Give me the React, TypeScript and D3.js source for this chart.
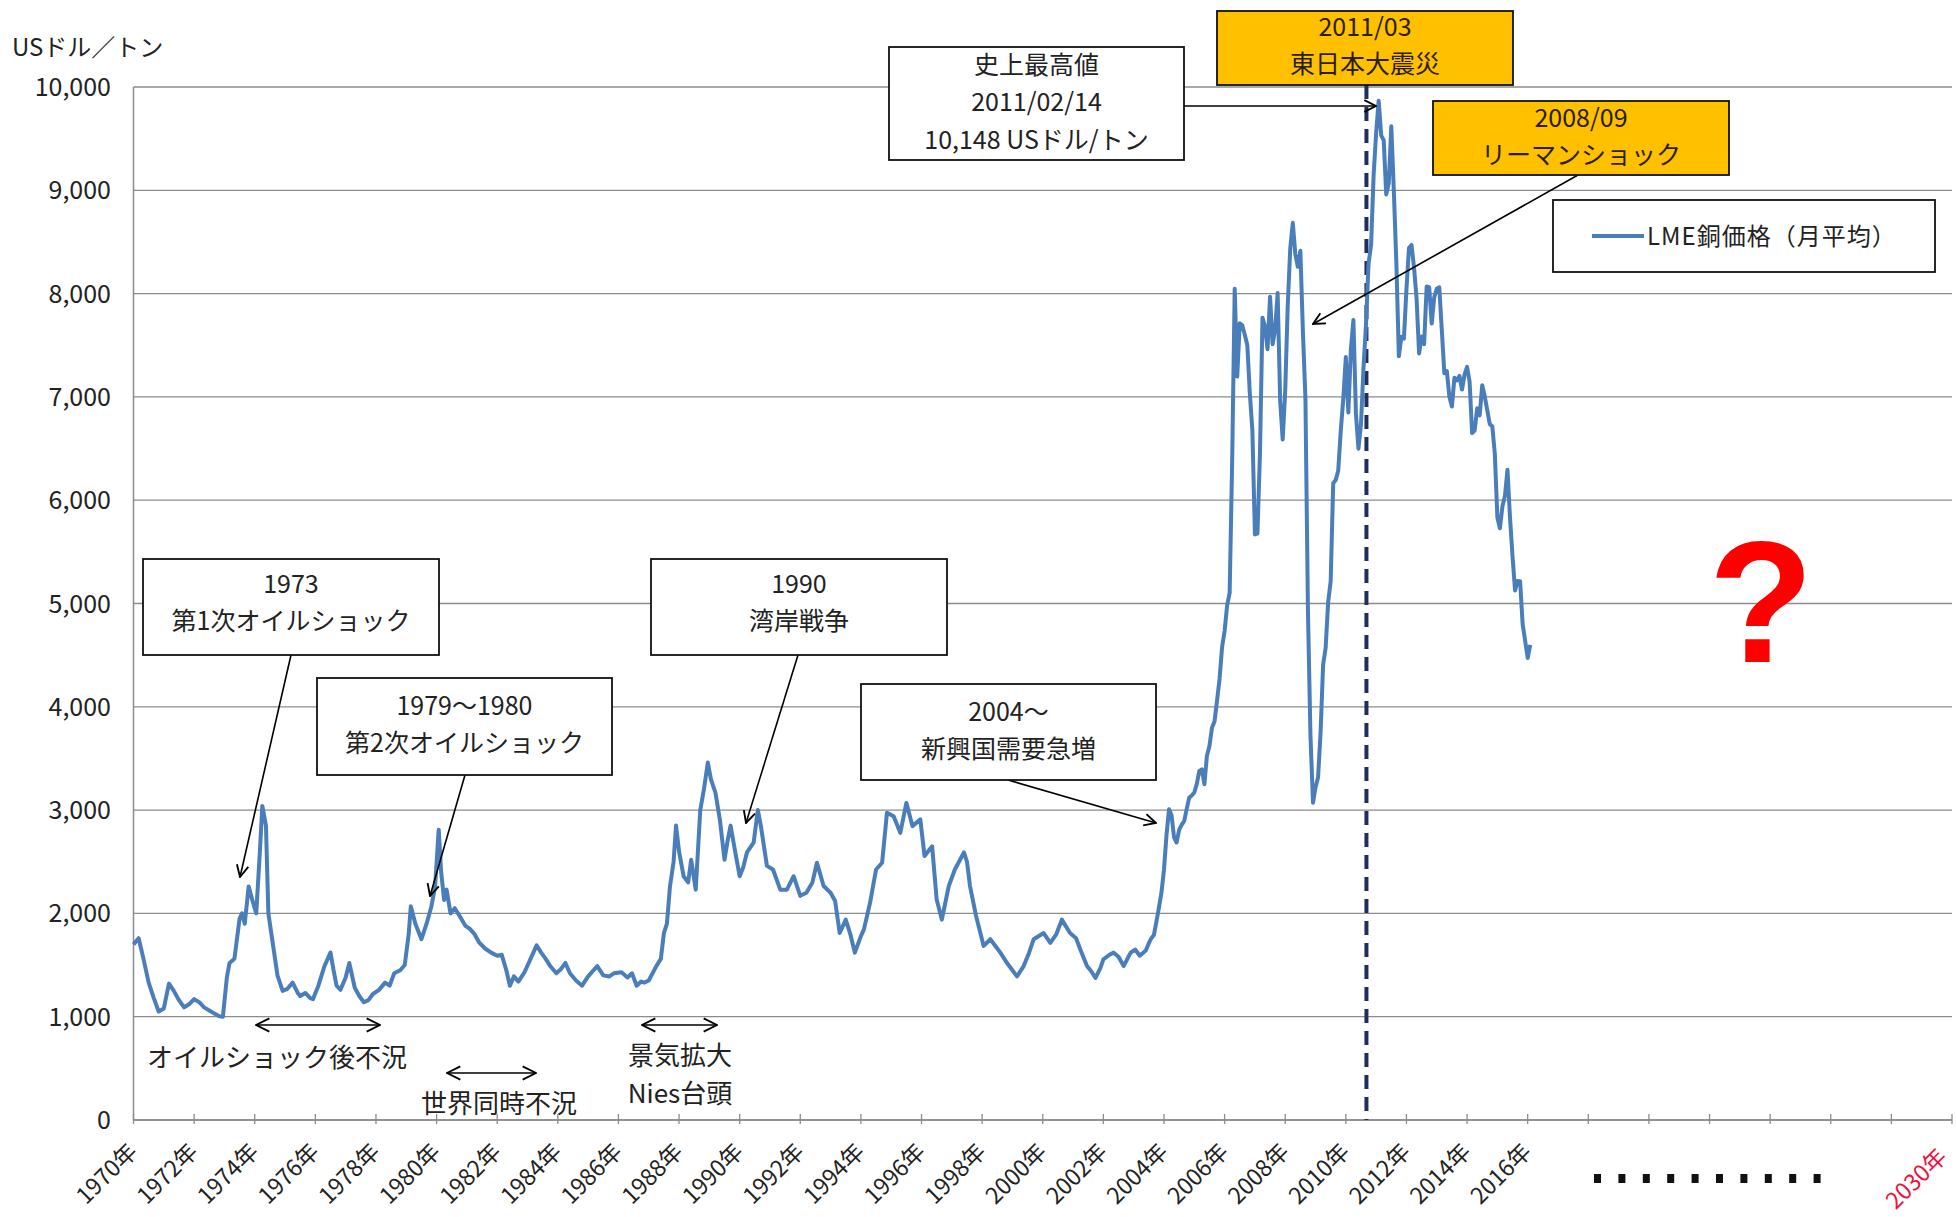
import React from 'react';
import * as d3 from 'd3';

const W = 1956;
const H = 1217;
const JP = '"Noto Sans CJK JP", "Noto Sans", sans-serif';

// y axis ticks (USドル/トン)
const yTicks = [0, 1000, 2000, 3000, 4000, 5000, 6000, 7000, 8000, 9000, 10000];
// x axis labelled years
const xLabelYears = [1970, 1972, 1974, 1976, 1978, 1980, 1982, 1984, 1986, 1988, 1990, 1992, 1994, 1996, 1998, 2000, 2002, 2004, 2006, 2008, 2010, 2012, 2014, 2016];
const tickYears = [1970, 1972, 1974, 1976, 1978, 1980, 1982, 1984, 1986, 1988, 1990, 1992, 1994, 1996, 1998, 2000, 2002, 2004, 2006, 2008, 2010, 2012, 2014, 2016, 2018, 2020, 2022, 2024, 2026, 2028, 2030];
const lastYearLabel = '2030年';

// LME copper price (monthly average), traced turning points [year, USD/t]
const pts1970s: [number, number][] = [
  [1970.0, 1700], [1970.17, 1760], [1970.33, 1560], [1970.5, 1330], [1970.67, 1180], [1970.83, 1050],
  [1971.0, 1080], [1971.17, 1320], [1971.33, 1250], [1971.5, 1160], [1971.67, 1090], [1971.83, 1120],
  [1972.0, 1170], [1972.17, 1140], [1972.33, 1090], [1972.5, 1060], [1972.67, 1030], [1972.83, 1005], [1972.95, 1000],
  [1973.08, 1380], [1973.17, 1520], [1973.33, 1560], [1973.5, 1950], [1973.58, 2000], [1973.67, 1900], [1973.8, 2260], [1973.92, 2130],
  [1974.05, 2000], [1974.17, 2600], [1974.25, 3040], [1974.37, 2850], [1974.45, 2000], [1974.6, 1700], [1974.75, 1400], [1974.92, 1250],
  [1975.08, 1270], [1975.25, 1330], [1975.42, 1230], [1975.5, 1200], [1975.67, 1230], [1975.83, 1180], [1975.92, 1170],
  [1976.1, 1300], [1976.3, 1490], [1976.5, 1620], [1976.6, 1450], [1976.7, 1300], [1976.83, 1260],
  [1977.0, 1380], [1977.12, 1520], [1977.3, 1280], [1977.45, 1200], [1977.6, 1140], [1977.75, 1160], [1977.9, 1220],
  [1978.1, 1260], [1978.3, 1330], [1978.45, 1300], [1978.6, 1420], [1978.8, 1450], [1978.95, 1500],
  [1979.08, 1800], [1979.15, 2070], [1979.3, 1900], [1979.5, 1750], [1979.67, 1900], [1979.83, 2070], [1979.95, 2260],
];
const pts1980s: [number, number][] = [
  [1980.07, 2810], [1980.15, 2400], [1980.25, 2130], [1980.33, 2230], [1980.46, 2000], [1980.6, 2050], [1980.75, 1980], [1980.95, 1880],
  [1981.1, 1850], [1981.25, 1800], [1981.4, 1720], [1981.6, 1660], [1981.8, 1620],
  [1982.0, 1590], [1982.15, 1600], [1982.3, 1450], [1982.42, 1300], [1982.55, 1390], [1982.7, 1340], [1982.9, 1430],
  [1983.1, 1560], [1983.3, 1690], [1983.45, 1620], [1983.6, 1560], [1983.75, 1490], [1983.95, 1420],
  [1984.1, 1460], [1984.25, 1520], [1984.4, 1420], [1984.6, 1350], [1984.8, 1300],
  [1985.0, 1390], [1985.15, 1440], [1985.3, 1490], [1985.5, 1400], [1985.7, 1390], [1985.85, 1420],
  [1986.1, 1430], [1986.3, 1380], [1986.45, 1420], [1986.6, 1300], [1986.75, 1340], [1986.85, 1330],
  [1987.0, 1350], [1987.25, 1490], [1987.4, 1560], [1987.5, 1810], [1987.6, 1900], [1987.7, 2260], [1987.82, 2500], [1987.9, 2850],
  [1988.0, 2600], [1988.15, 2360], [1988.3, 2300], [1988.4, 2520], [1988.55, 2230], [1988.7, 3000], [1988.82, 3200], [1988.95, 3460],
  [1989.05, 3300], [1989.2, 3170], [1989.35, 2900], [1989.5, 2520], [1989.6, 2700], [1989.7, 2850], [1989.85, 2600],
];
const pts1990s: [number, number][] = [
  [1990.0, 2360], [1990.12, 2450], [1990.24, 2590], [1990.46, 2685], [1990.6, 3000], [1990.7, 2845], [1990.9, 2460],
  [1991.1, 2425], [1991.34, 2230], [1991.56, 2230], [1991.78, 2360],
  [1992.0, 2170], [1992.2, 2200], [1992.4, 2300], [1992.55, 2490], [1992.77, 2265],
  [1993.0, 2200], [1993.15, 2120], [1993.3, 1810], [1993.5, 1940], [1993.65, 1800], [1993.8, 1620],
  [1994.0, 1780], [1994.1, 1845], [1994.3, 2100], [1994.5, 2425], [1994.7, 2490], [1994.86, 2975],
  [1995.08, 2940], [1995.3, 2780], [1995.5, 3070], [1995.7, 2845], [1995.96, 2910],
  [1996.1, 2555], [1996.35, 2650], [1996.5, 2135], [1996.67, 1940], [1996.9, 2265],
  [1997.1, 2425], [1997.4, 2590], [1997.5, 2500], [1997.6, 2265], [1997.8, 1975],
  [1998.05, 1685], [1998.27, 1750], [1998.45, 1680], [1998.6, 1620], [1998.82, 1520],
  [1999.0, 1450], [1999.15, 1390], [1999.37, 1490], [1999.55, 1620], [1999.7, 1750],
];
const pts2000s: [number, number][] = [
  [2000.03, 1810], [2000.25, 1715], [2000.45, 1800], [2000.63, 1940], [2000.9, 1810],
  [2001.1, 1760], [2001.24, 1650], [2001.46, 1490], [2001.6, 1440], [2001.74, 1375], [2001.9, 1470],
  [2002.0, 1555], [2002.2, 1600], [2002.34, 1620], [2002.5, 1580], [2002.67, 1490], [2002.9, 1620],
  [2003.05, 1650], [2003.2, 1590], [2003.4, 1640],
];
// monthly averages from 2003/07 to 2016/02
const monthlyStart = 2003.5;
const monthly2003to2016 = [
  1712, 1760, 1790, 1921, 2055, 2201,
  2423, 2759, 3008, 2949, 2734, 2686, 2808, 2858, 2894, 3011, 3121, 3141,
  3170, 3254, 3379, 3394, 3250, 3526, 3620, 3797, 3857, 4059, 4270, 4577,
  4734, 4982, 5103, 6387, 8046, 7197, 7712, 7692, 7602, 7500, 7029, 6675,
  5669, 5676, 6452, 7766, 7683, 7461, 7970, 7510, 7649, 8005, 6964, 6587,
  7061, 7888, 8439, 8685, 8383, 8260, 8414, 7634, 6991, 4926, 3717, 3072,
  3221, 3315, 3750, 4407, 4569, 5014, 5216, 6165, 6196, 6288, 6676, 6982,
  7386, 6849, 7463, 7745, 6838, 6499, 6735, 7284, 7709, 8292, 8470, 9147,
  9556, 9867, 9531, 9483, 8960, 9068, 9620, 9000, 8300, 7394, 7582, 7565,
  8043, 8442, 8471, 8253, 7956, 7420, 7584, 7510, 8069, 8062, 7711, 7965,
  8047, 8061, 7646, 7230, 7249, 7001, 6907, 7186, 7159, 7203, 7071, 7215,
  7291, 7149, 6650, 6674, 6891, 6821, 7113, 7002, 6872, 6737, 6713, 6446,
  5831, 5729, 5940, 6042, 6295, 5833, 5457, 5127, 5217, 5216, 4800, 4639,
  4472, 4599,
];

const quakeYear = 2010.68; // 2011/03 marker line
const LINE_BLUE = '#4A7EBB';
const GRID = '#8C8C8C';

type Box = { x0: number; y0: number; x1: number; y1: number; lines: { t: string; y: number }[]; fill: string };

const boxes: Box[] = [
  { x0: 143, y0: 559, x1: 439, y1: 655, fill: '#fff', lines: [{ t: '1973', y: 593 }, { t: '第1次オイルショック', y: 630 }] },
  { x0: 317, y0: 678, x1: 612, y1: 775, fill: '#fff', lines: [{ t: '1979～1980', y: 715 }, { t: '第2次オイルショック', y: 752 }] },
  { x0: 651, y0: 559, x1: 947, y1: 655, fill: '#fff', lines: [{ t: '1990', y: 593 }, { t: '湾岸戦争', y: 630 }] },
  { x0: 861, y0: 684, x1: 1156, y1: 780, fill: '#fff', lines: [{ t: '2004～', y: 721 }, { t: '新興国需要急増', y: 758 }] },
  { x0: 889, y0: 47, x1: 1184, y1: 160, fill: '#fff', lines: [{ t: '史上最高値', y: 74 }, { t: '2011/02/14', y: 111 }, { t: '10,148 USドル/トン', y: 149 }] },
  { x0: 1217, y0: 11, x1: 1513, y1: 85, fill: '#FFC000', lines: [{ t: '2011/03', y: 36 }, { t: '東日本大震災', y: 73 }] },
  { x0: 1433, y0: 101, x1: 1729, y1: 175, fill: '#FFC000', lines: [{ t: '2008/09', y: 127 }, { t: 'リーマンショック', y: 164 }] },
];

const arrows = [
  [291, 655, 240, 877],
  [465, 775, 430, 896],
  [798, 655, 746, 823],
  [1008, 780, 1156, 823],
  [1184, 106, 1376, 106],
  [1578, 175, 1313, 324],
];

const spans = [
  { x0: 256, x1: 380, y: 1025, labels: [{ t: 'オイルショック後不況', x: 277, y: 1067 }] },
  { x0: 447, x1: 536, y: 1073, labels: [{ t: '世界同時不況', x: 499, y: 1113 }] },
  { x0: 642, x1: 717, y: 1025, labels: [{ t: '景気拡大', x: 680, y: 1065 }, { t: 'Nies台頭', x: 680, y: 1103 }] },
];

export default function App() {
  const left = 133.5;
  const right = 1952;
  const x = d3.scaleLinear().domain([1970, 2030]).range([left, right]);
  const y = d3.scaleLinear().domain([0, 10000]).range([1120, 87]);

  const series: [number, number][] = [
    ...pts1970s,
    ...pts1980s,
    ...pts1990s,
    ...pts2000s,
    ...monthly2003to2016.map((v, i) => [monthlyStart + i / 12, v] as [number, number]),
  ];
  const line = d3.line<[number, number]>().x((d) => x(d[0])).y((d) => y(d[1]));

  const dotXs = d3.range(10).map((i) => 1594 + i * 24.4);

  return (
    <svg width={W} height={H} style={{ position: 'absolute', left: 0, top: 0, background: '#fff' }} fontFamily={JP}>
      <defs>
        <marker id="ah" viewBox="0 0 12 12" refX="11" refY="6" markerWidth="14" markerHeight="14" markerUnits="userSpaceOnUse" orient="auto-start-reverse">
          <path d="M1,1 L11,6 L1,11" fill="none" stroke="#000" strokeWidth="1.6" />
        </marker>
        <marker id="ah2" viewBox="0 0 12 12" refX="11" refY="6" markerWidth="16" markerHeight="16" markerUnits="userSpaceOnUse" orient="auto-start-reverse">
          <path d="M1,1 L11,6 L1,11" fill="none" stroke="#000" strokeWidth="1.4" />
        </marker>
      </defs>
      <rect x={0} y={0} width={W} height={H} fill="#fff" />

      {/* gridlines */}
      {yTicks.map((t) => (
        <line key={t} x1={left} x2={right} y1={y(t)} y2={y(t)} stroke={GRID} strokeWidth={1.3} />
      ))}
      {/* axes */}
      <line x1={left} x2={left} y1={y(10000)} y2={y(0)} stroke={GRID} strokeWidth={1.5} />
      <line x1={left} x2={right} y1={y(0)} y2={y(0)} stroke={GRID} strokeWidth={1.5} />
      {tickYears.map((t) => (
        <line key={t} x1={x(t)} x2={x(t)} y1={y(0) - 6} y2={y(0) + 4} stroke={GRID} strokeWidth={1.3} />
      ))}

      {/* y labels */}
      {yTicks.map((t) => (
        <text key={t} x={111} y={y(t)} dy="0.36em" textAnchor="end" fontSize={25} fill="#222">
          {d3.format(',')(t)}
        </text>
      ))}
      <text x={12} y={56} fontSize={24} fill="#222">USドル／トン</text>

      {/* x labels */}
      {xLabelYears.map((t) => (
        <text key={t} transform={`translate(${x(t) - 7},${1141}) rotate(-45)`} textAnchor="end" dy="0.75em" fontSize={23} fill="#222">
          {t}年
        </text>
      ))}
      <text transform={`translate(${x(2030) - 16},${1146}) rotate(-45)`} textAnchor="end" dy="0.75em" fontSize={23} fill="#F0103C">
        {lastYearLabel}
      </text>
      {dotXs.map((dx, i) => (
        <rect key={i} x={dx} y={1174} width={7} height={9} fill="#111" />
      ))}

      {/* event marker line */}
      <line x1={x(quakeYear)} x2={x(quakeYear)} y1={85} y2={y(0)} stroke="#1F2E5C" strokeWidth={4} strokeDasharray="14 8" />

      {/* price line */}
      <path d={line(series) || ''} fill="none" stroke={LINE_BLUE} strokeWidth={4} strokeLinejoin="round" />

      {/* arrows */}
      {arrows.map((a, i) => (
        <line key={i} x1={a[0]} y1={a[1]} x2={a[2]} y2={a[3]} stroke="#000" strokeWidth={1.6} markerEnd="url(#ah)" />
      ))}

      {/* boxes */}
      {boxes.map((b, i) => (
        <g key={i}>
          <rect x={b.x0} y={b.y0} width={b.x1 - b.x0} height={b.y1 - b.y0} fill={b.fill} stroke="#111" strokeWidth={1.8} />
          {b.lines.map((l, j) => (
            <text key={j} x={(b.x0 + b.x1) / 2} y={l.y} textAnchor="middle" fontSize={25} fill={b.fill === '#fff' ? '#222' : '#2a2000'}>
              {l.t}
            </text>
          ))}
        </g>
      ))}

      {/* period spans */}
      {spans.map((s, i) => (
        <g key={i}>
          <line x1={s.x0} x2={s.x1} y1={s.y} y2={s.y} stroke="#000" strokeWidth={1.6} markerStart="url(#ah2)" markerEnd="url(#ah2)" />
          {s.labels.map((l, j) => (
            <text key={j} x={l.x} y={l.y} textAnchor="middle" fontSize={26} fill="#222">
              {l.t}
            </text>
          ))}
        </g>
      ))}

      {/* legend */}
      <rect x={1553} y={200} width={382} height={72} fill="#fff" stroke="#111" strokeWidth={1.8} />
      <line x1={1592} x2={1644} y1={236} y2={236} stroke={LINE_BLUE} strokeWidth={4} />
      <text x={1647} y={245} fontSize={24} letterSpacing={1} fill="#222">LME銅価格（月平均）</text>

      {/* question mark */}
      <text x={1761} y={662} textAnchor="middle" fontSize={172} fontWeight="bold" fontFamily='"Liberation Sans", Arial, sans-serif' fill="#FF0000">
        ?
      </text>
    </svg>
  );
}
